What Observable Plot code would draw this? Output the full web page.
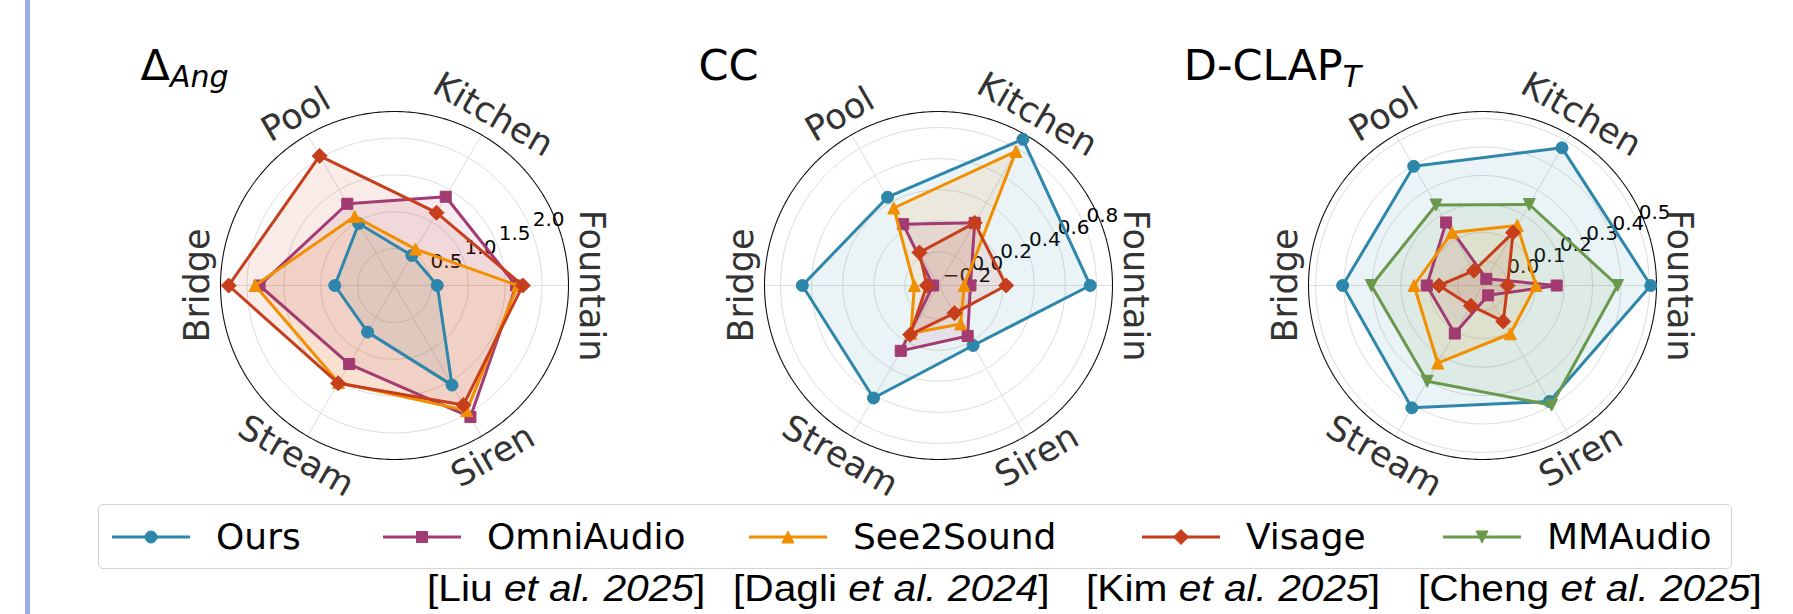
<!DOCTYPE html>
<html>
<head>
<meta charset="utf-8">
<script src="https://cdn.jsdelivr.net/npm/d3@7"></script>
<script src="https://cdn.jsdelivr.net/npm/@observablehq/plot@0.6"></script>
<style>
  html, body { margin: 0; padding: 0; background: #fff; }
  #page { position: relative; width: 1793px; height: 614px; overflow: hidden; font-family: "DejaVu Sans", sans-serif; }
  #bar { position: absolute; left: 25px; top: 0; width: 5px; height: 614px; background: #98ade2; }
  .chart { position: absolute; top: 0; }
  .chart svg { overflow: visible; }
  .title { position: absolute; top: 40px; font-size: 43px; line-height: 50px; color: #000; transform: translateX(-50%); white-space: nowrap; }
  .title sub { font-size: 30px; font-style: oblique; vertical-align: -7px; line-height: 0; }
  #legend { position: absolute; left: 98px; top: 504px; width: 1634px; height: 65px; box-sizing: border-box;
            border: 1.2px solid #d4d4d4; border-radius: 5px; }
  .item { position: absolute; top: 0; height: 63px; display: flex; align-items: center; font-size: 36px; color: #000; white-space: nowrap; }
  .item svg { margin-right: 26px; }
  .cite { position: absolute; top: 569px; font-family: "Liberation Sans", "Arial", sans-serif; font-size: 36px; line-height: 40px;
          color: #000; white-space: nowrap; transform: scaleX(1.13); transform-origin: 0 50%; }
  .cite i { font-style: italic; }
</style>
</head>
<body>
<div id="page"><div id="bar"></div></div>
<script>
// ---------- data ----------
const categories = ["Fountain", "Kitchen", "Pool", "Bridge", "Stream", "Siren"];
const axisAngles = [0, 60, 120, 180, 240, 300];
const methods = ["Ours", "OmniAudio", "See2Sound", "Visage", "MMAudio"];
const methodColors = ["#2E86AB", "#A23B72", "#F18F01", "#C73E1D", "#6A994E"];
const citeAuthors = ["", "Liu", "Dagli", "Kim", "Cheng"];
const citeYears = ["", "2025", "2024", "2025", "2025"];

// Δ_Ang
const angOurs   = [0.58, 0.47, 0.97, 0.81, 0.73, 1.56];
const angOmni   = [1.65, 1.39, 1.28, 1.83, 1.23, 2.06];
const angSee    = [1.67, 0.57, 1.08, 1.89, 1.52, 1.96];
const angVisage = [1.74, 1.14, 2.03, 2.25, 1.53, 1.87];
const angDomain = [0, 2.36];
const angTicks  = [0.5, 1.0, 1.5, 2.0];

// CC
const ccOurs   = [0.76, 0.87, 0.44, 0.66, 0.62, 0.23];
const ccOmni   = [-0.01, 0.25, 0.24, -0.18, 0.27, 0.16];
const ccSee    = [-0.05, 0.78, 0.36, -0.06, 0.14, 0.07];
const ccVisage = [0.22, 0.25, 0.03, -0.14, 0.15, -0.01];
const ccDomain = [-0.215, 0.903];
const ccTicks  = [-0.2, 0.0, 0.2, 0.4, 0.6, 0.8];

// D-CLAP_T
const clapOurs   = [0.505, 0.472, 0.397, 0.405, 0.410, 0.384];
const clapOmni   = [0.174, -0.060, 0.169, 0.109, 0.108, -0.047];
const clapSee    = [0.101, 0.157, 0.128, 0.154, 0.228, 0.109];
const clapVisage = [0.001, 0.128, -0.027, 0.066, -0.005, 0.059];
const clapMM     = [0.388, 0.242, 0.240, 0.304, 0.302, 0.399];
const clapDomain = [-0.087, 0.525];
const clapTicks  = [0.0, 0.1, 0.2, 0.3, 0.4, 0.5];

const chartTitles = ["Δ", "CC", "D-CLAP"];
const chartSubs   = ["Ang", "", "T"];

// ---------- layout / style ----------
const R = 174, W = 544, H = 520, CY = 285;
const centersX = [393.5, 937.5, 1481.5];
const TITLE_DX = -209;
const LABEL_PAD = 23;
const legendTextX = [215, 486, 852, 1245, 1546];
const citeLeft = [0, 427, 733, 1086, 1418];

const charts = [
  {names: methods.slice(0, 4), values: [angOurs, angOmni, angSee, angVisage], domain: angDomain, ticks: angTicks},
  {names: methods.slice(0, 4), values: [ccOurs, ccOmni, ccSee, ccVisage], domain: ccDomain, ticks: ccTicks},
  {names: methods, values: [clapOurs, clapOmni, clapSee, clapVisage, clapMM], domain: clapDomain, ticks: clapTicks}
];

// marker shapes (matplotlib o, s, ^, D, v)
const symbols = {
  Ours: {draw(c, size) { const s = Math.sqrt(size / Math.PI); c.moveTo(s, 0); c.arc(0, 0, s, 0, 2 * Math.PI); }},
  OmniAudio: {draw(c, size) { const s = Math.sqrt(size / Math.PI) * 0.92; c.rect(-s, -s, 2 * s, 2 * s); }},
  See2Sound: {draw(c, size) { const s = Math.sqrt(size / Math.PI) * 1.0; c.moveTo(0, -s); c.lineTo(s, s); c.lineTo(-s, s); c.closePath(); }},
  Visage: {draw(c, size) { const s = Math.sqrt(size / Math.PI) * 1.25; c.moveTo(0, -s); c.lineTo(s, 0); c.lineTo(0, s); c.lineTo(-s, 0); c.closePath(); }},
  MMAudio: {draw(c, size) { const s = Math.sqrt(size / Math.PI) * 1.0; c.moveTo(0, s); c.lineTo(s, -s); c.lineTo(-s, -s); c.closePath(); }}
};
const colorOf = m => methodColors[methods.indexOf(m)];
const MARKER_R = 6;

function radarPlot(cfg) {
  const [d0, d1] = cfg.domain;
  const rho = v => (v - d0) / (d1 - d0);
  const rad = deg => deg * Math.PI / 180;
  const rows = cfg.names.flatMap((m, si) => cfg.values[si].map((v, k) => ({
    method: m, category: categories[k], value: v,
    x: rho(v) * Math.cos(rad(axisAngles[k])), y: rho(v) * Math.sin(rad(axisAngles[k]))
  })));
  const grid = cfg.ticks.flatMap(t => d3.range(0, 361, 2).map(a => ({t, x: rho(t) * Math.cos(rad(a)), y: rho(t) * Math.sin(rad(a))})));
  const rim = d3.range(0, 361, 1).map(a => ({x: Math.cos(rad(a)), y: Math.sin(rad(a))}));
  const labR = 1 + LABEL_PAD / R;
  const labs = categories.map((c, k) => {
    let rot = 90 - axisAngles[k];
    if (rot < -90) rot += 180;
    if (rot > 90) rot -= 180;
    return {c, x: labR * Math.cos(rad(axisAngles[k])), y: labR * Math.sin(rad(axisAngles[k])), rot};
  });
  const fmt = d3.format(".1f");
  const bySeries = m => rows.filter(r => r.method === m);
  // matplotlib draws all filled patches (zorder 1) beneath all lines (zorder 2)
  const fills = cfg.names.map(m =>
    Plot.line(bySeries(m), {x: "x", y: "y", curve: "linear-closed", stroke: "none", fill: colorOf(m), fillOpacity: 0.1}));
  const lines = cfg.names.flatMap(m => [
    Plot.line(bySeries(m), {x: "x", y: "y", curve: "linear-closed", stroke: colorOf(m), strokeWidth: 3, strokeLinejoin: "miter"}),
    Plot.dot(bySeries(m), {x: "x", y: "y", symbol: symbols[m], r: MARKER_R, fill: colorOf(m), stroke: colorOf(m), strokeWidth: 1})
  ]);
  return Plot.plot({
    width: W, height: H, margin: 0,
    x: {axis: null, domain: [-W / 2 / R, W / 2 / R]},
    y: {axis: null, domain: [-(H - CY) / R, CY / R]},
    style: {fontFamily: "DejaVu Sans", background: "transparent", overflow: "visible"},
    marks: [
      Plot.line(grid, {x: "x", y: "y", z: "t", stroke: "#dddddd", strokeWidth: 1}),
      Plot.link(categories, {x1: () => 0, y1: () => 0,
        x2: (c, k) => Math.cos(rad(axisAngles[k])), y2: (c, k) => Math.sin(rad(axisAngles[k])),
        stroke: "#dddddd", strokeWidth: 1}),
      Plot.line(rim, {x: "x", y: "y", stroke: "#111", strokeWidth: 1.1}),
      Plot.text(cfg.ticks, {x: t => rho(t) * Math.cos(rad(22.5)), y: t => rho(t) * Math.sin(rad(22.5)),
        text: t => fmt(t), textAnchor: "start", lineAnchor: "bottom", dx: 2, dy: -3, fontSize: 20, fill: "#000"}),
      Plot.text(labs, {x: "x", y: "y", text: "c", rotate: "rot", textAnchor: "middle", lineAnchor: "middle", fontSize: 35, fill: "#333"}),
      ...fills,
      ...lines
    ]
  });
}

const page = document.getElementById("page");
charts.forEach((cfg, i) => {
  const div = document.createElement("div");
  div.className = "chart";
  div.style.left = (centersX[i] - W / 2) + "px";
  div.appendChild(radarPlot(cfg));
  page.appendChild(div);
  const t = document.createElement("div");
  t.className = "title";
  t.style.left = (centersX[i] + TITLE_DX) + "px";
  t.innerHTML = chartTitles[i] + (chartSubs[i] ? "<sub>" + chartSubs[i] + "</sub>" : "");
  page.appendChild(t);
});

// legend
const legend = document.createElement("div");
legend.id = "legend";
const legendLeft = 98;
methods.forEach((m, i) => {
  const item = document.createElement("div");
  item.className = "item";
  item.style.left = (legendTextX[i] - 104 - legendLeft) + "px";
  const svg = d3.create("svg").attr("width", 78).attr("height", 24);
  svg.append("line").attr("x1", 0).attr("x2", 78).attr("y1", 12).attr("y2", 12).attr("stroke", methodColors[i]).attr("stroke-width", 3);
  const p = d3.path();
  symbols[m].draw(p, Math.PI * MARKER_R * MARKER_R);
  svg.append("path").attr("d", p.toString()).attr("transform", "translate(39,12)").attr("fill", methodColors[i]).attr("stroke", methodColors[i]);
  item.appendChild(svg.node());
  const s = document.createElement("span");
  s.textContent = m;
  item.appendChild(s);
  legend.appendChild(item);
});
page.appendChild(legend);

// citations
methods.forEach((m, i) => {
  if (!citeAuthors[i]) return;
  const c = document.createElement("div");
  c.className = "cite";
  c.style.left = citeLeft[i] + "px";
  c.innerHTML = "[" + citeAuthors[i] + " <i>et al. " + citeYears[i] + "</i>]";
  page.appendChild(c);
});
</script>
</body>
</html>
